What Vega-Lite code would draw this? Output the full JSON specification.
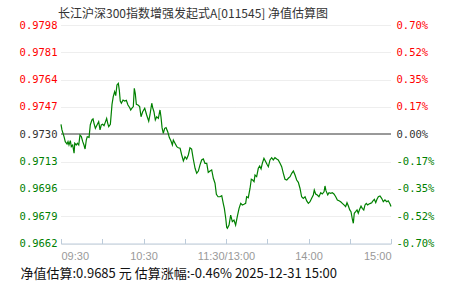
{
  "$schema": "https://vega.github.io/schema/vega-lite/v6.json",
  "width": 330,
  "height": 218.5,
  "autosize": "none",
  "padding": {"left": 61, "top": 25, "right": 60, "bottom": 37.5},
  "background": "#ffffff",
  "title": {
    "text": "长江沪深300指数增强发起式A[011545] 净值估算图",
    "anchor": "start",
    "frame": "group",
    "dx": -3,
    "dy": 8,
    "offset": 7,
    "font": "Noto Sans CJK SC",
    "fontSize": 12,
    "fontWeight": "normal",
    "color": "#333333"
  },
  "config": {"view": {"stroke": null}},
  "data": {
    "values": [
      {"t":0,"nav":0.97362},{"t":0.7,"nav":0.97327},{"t":2.2,"nav":0.97285},{"t":3.1,"nav":0.97254},{"t":4.4,"nav":0.97239},{"t":5.1,"nav":0.97254},{"t":5.8,"nav":0.97233},{"t":6.8,"nav":0.97260},{"t":7.5,"nav":0.97223},{"t":8.5,"nav":0.97233},{"t":9.5,"nav":0.97182},{"t":10,"nav":0.97244},{"t":11.1,"nav":0.97233},{"t":11.9,"nav":0.97244},{"t":12.9,"nav":0.97233},{"t":13.8,"nav":0.97295},{"t":14.8,"nav":0.97285},{"t":15.8,"nav":0.97254},{"t":16.7,"nav":0.97233},{"t":17.5,"nav":0.97208},{"t":18.4,"nav":0.97264},{"t":19.1,"nav":0.97285},{"t":20.4,"nav":0.97281},{"t":21.3,"nav":0.97358},{"t":22.5,"nav":0.97389},{"t":23.3,"nav":0.97395},{"t":24,"nav":0.97368},{"t":25,"nav":0.97337},{"t":26.2,"nav":0.97358},{"t":27.4,"nav":0.97378},{"t":28.4,"nav":0.97327},{"t":29.3,"nav":0.97358},{"t":30.3,"nav":0.97362},{"t":31.3,"nav":0.97353},{"t":32.2,"nav":0.97374},{"t":33.2,"nav":0.97399},{"t":34,"nav":0.97368},{"t":34.7,"nav":0.97347},{"t":35.9,"nav":0.97362},{"t":37.1,"nav":0.97486},{"t":38,"nav":0.97534},{"t":39,"nav":0.97565},{"t":39.8,"nav":0.97540},{"t":40.7,"nav":0.97607},{"t":41.7,"nav":0.97617},{"t":42.4,"nav":0.97575},{"t":43.1,"nav":0.97507},{"t":43.9,"nav":0.97493},{"t":45.1,"nav":0.97513},{"t":46.3,"nav":0.97507},{"t":47.5,"nav":0.97511},{"t":48.7,"nav":0.97482},{"t":50,"nav":0.97465},{"t":50.7,"nav":0.97451},{"t":51.6,"nav":0.97462},{"t":52.6,"nav":0.97472},{"t":53.3,"nav":0.97586},{"t":54,"nav":0.97555},{"t":54.8,"nav":0.97486},{"t":56,"nav":0.97482},{"t":57.2,"nav":0.97472},{"t":58.2,"nav":0.97409},{"t":59.4,"nav":0.97440},{"t":60.9,"nav":0.97462},{"t":62.3,"nav":0.97420},{"t":63.8,"nav":0.97382},{"t":64.7,"nav":0.97420},{"t":66,"nav":0.97493},{"t":66.7,"nav":0.97465},{"t":67.6,"nav":0.97440},{"t":68.6,"nav":0.97389},{"t":69.6,"nav":0.97409},{"t":70.8,"nav":0.97399},{"t":72,"nav":0.97451},{"t":72.7,"nav":0.97409},{"t":73.5,"nav":0.97341},{"t":74.4,"nav":0.97306},{"t":75.4,"nav":0.97337},{"t":76.4,"nav":0.97341},{"t":77.6,"nav":0.97316},{"t":78.8,"nav":0.97279},{"t":80,"nav":0.97258},{"t":81,"nav":0.97233},{"t":81.7,"nav":0.97264},{"t":82.9,"nav":0.97244},{"t":84.2,"nav":0.97223},{"t":85.3,"nav":0.97216},{"t":86.6,"nav":0.97213},{"t":87.8,"nav":0.97171},{"t":89,"nav":0.97134},{"t":90.2,"nav":0.97160},{"t":91.4,"nav":0.97146},{"t":92.6,"nav":0.97171},{"t":93.8,"nav":0.97216},{"t":95,"nav":0.97208},{"t":96.2,"nav":0.97146},{"t":97.5,"nav":0.97088},{"t":98.7,"nav":0.97057},{"t":99.9,"nav":0.97071},{"t":101.1,"nav":0.97109},{"t":102.3,"nav":0.97140},{"t":103.5,"nav":0.97146},{"t":104.7,"nav":0.97119},{"t":106,"nav":0.97119},{"t":107.1,"nav":0.97063},{"t":108.4,"nav":0.97071},{"t":109.6,"nav":0.97078},{"t":110.8,"nav":0.97026},{"t":112,"nav":0.96995},{"t":113,"nav":0.96926},{"t":114.2,"nav":0.96911},{"t":115.6,"nav":0.96911},{"t":116.9,"nav":0.96918},{"t":118,"nav":0.96870},{"t":118.8,"nav":0.96839},{"t":119.8,"nav":0.96777},{"t":120.5,"nav":0.96721},{"t":121,"nav":0.96715},{"t":122.2,"nav":0.96735},{"t":123.4,"nav":0.96797},{"t":124.6,"nav":0.96756},{"t":125.8,"nav":0.96766},{"t":127,"nav":0.96735},{"t":128.2,"nav":0.96787},{"t":129.5,"nav":0.96839},{"t":130.7,"nav":0.96870},{"t":131.9,"nav":0.96860},{"t":133.1,"nav":0.96864},{"t":134.3,"nav":0.96870},{"t":135,"nav":0.96911},{"t":136.2,"nav":0.96905},{"t":137.5,"nav":0.96964},{"t":138.4,"nav":0.97020},{"t":139.4,"nav":0.97015},{"t":140.4,"nav":0.97005},{"t":141.1,"nav":0.97046},{"t":142.3,"nav":0.97036},{"t":143.5,"nav":0.97088},{"t":144.5,"nav":0.97102},{"t":145.5,"nav":0.97084},{"t":146.4,"nav":0.97119},{"t":147.6,"nav":0.97150},{"t":148.9,"nav":0.97129},{"t":149.8,"nav":0.97113},{"t":150.8,"nav":0.97098},{"t":152,"nav":0.97140},{"t":153.2,"nav":0.97154},{"t":154.4,"nav":0.97140},{"t":155.6,"nav":0.97154},{"t":156.9,"nav":0.97146},{"t":158,"nav":0.97140},{"t":159.3,"nav":0.97119},{"t":160.5,"nav":0.97098},{"t":161.7,"nav":0.97057},{"t":162.9,"nav":0.97020},{"t":164.2,"nav":0.97015},{"t":165.3,"nav":0.97026},{"t":166.6,"nav":0.97036},{"t":167.8,"nav":0.97057},{"t":169,"nav":0.97071},{"t":170.2,"nav":0.97046},{"t":171.4,"nav":0.97015},{"t":172.6,"nav":0.97001},{"t":173.8,"nav":0.96964},{"t":175,"nav":0.96911},{"t":176.2,"nav":0.96901},{"t":177.5,"nav":0.96911},{"t":178.7,"nav":0.96885},{"t":179.9,"nav":0.96870},{"t":181.1,"nav":0.96880},{"t":182.3,"nav":0.96901},{"t":183.5,"nav":0.96922},{"t":184.2,"nav":0.96953},{"t":185.2,"nav":0.96928},{"t":186.4,"nav":0.96922},{"t":187.6,"nav":0.96911},{"t":188.9,"nav":0.96936},{"t":190,"nav":0.96928},{"t":191.3,"nav":0.96942},{"t":192,"nav":0.96978},{"t":192.7,"nav":0.96949},{"t":194,"nav":0.96922},{"t":194.9,"nav":0.96936},{"t":196.2,"nav":0.96932},{"t":197.3,"nav":0.96936},{"t":198.5,"nav":0.96928},{"t":199.8,"nav":0.96911},{"t":201,"nav":0.96891},{"t":202.2,"nav":0.96886},{"t":203.4,"nav":0.96880},{"t":204.6,"nav":0.96870},{"t":205.8,"nav":0.96860},{"t":207,"nav":0.96849},{"t":208,"nav":0.96874},{"t":209,"nav":0.96853},{"t":210,"nav":0.96829},{"t":210.9,"nav":0.96818},{"t":211.9,"nav":0.96771},{"t":212.6,"nav":0.96746},{"t":213.3,"nav":0.96808},{"t":214.3,"nav":0.96818},{"t":215.3,"nav":0.96829},{"t":216.2,"nav":0.96808},{"t":217.2,"nav":0.96833},{"t":218.2,"nav":0.96853},{"t":219.1,"nav":0.96839},{"t":220.2,"nav":0.96829},{"t":221.1,"nav":0.96860},{"t":222,"nav":0.96870},{"t":223,"nav":0.96860},{"t":224,"nav":0.96866},{"t":225,"nav":0.96870},{"t":226,"nav":0.96874},{"t":226.9,"nav":0.96886},{"t":227.9,"nav":0.96895},{"t":228.9,"nav":0.96874},{"t":229.8,"nav":0.96895},{"t":230.8,"nav":0.96911},{"t":232,"nav":0.96916},{"t":233.2,"nav":0.96901},{"t":234.4,"nav":0.96880},{"t":235.6,"nav":0.96891},{"t":236.9,"nav":0.96880},{"t":238,"nav":0.96886},{"t":239.3,"nav":0.96866},{"t":240,"nav":0.9685}
    ]
  },
  "layer": [
    {
      "mark": {"type": "rule", "color": "#999999", "strokeWidth": 1.5},
      "encoding": {
        "y": {
          "datum": 0.973,
          "type": "quantitative",
          "scale": {"domain": [0.9662, 0.9798], "nice": false, "zero": false},
          "axis": {
            "orient": "right",
            "values": [0.9662, 0.9679, 0.9696, 0.9713, 0.973, 0.9747, 0.9764, 0.9781, 0.9798],
            "labelExpr": "(datum.value < 0.97295 ? '-' : '') + format(abs(datum.value / 0.973 - 1) * 100, '.2f') + '%'",
            "domain": false,
            "ticks": false,
            "grid": false,
            "labelPadding": 5,
            "labelFont": "DejaVu Sans Mono",
            "labelFontSize": 10.5,
            "labelColor": {"expr": "datum.value > 0.97305 ? '#ff0000' : (datum.value < 0.97295 ? '#008000' : '#333333')"},
            "labelOverlap": false,
            "title": null
          }
        }
      }
    },
    {
      "mark": {"type": "line", "color": "#008000", "strokeWidth": 1.2},
      "encoding": {
        "x": {
          "field": "t",
          "type": "quantitative",
          "scale": {"domain": [0, 240], "nice": false, "zero": false},
          "axis": {
            "values": [0, 30, 60, 90, 120, 150, 180, 210, 240],
            "labelExpr": "datum.value == 0 ? '09:30' : datum.value == 60 ? '10:30' : datum.value == 120 ? '11:30/13:00' : datum.value == 180 ? '14:00' : datum.value == 240 ? '15:00' : ''",
            "labelFlush": true,
            "labelOverlap": false,
            "grid": false,
            "domainColor": "#bccbda",
            "tickColor": "#bccbda",
            "tickSize": -5,
            "labelPadding": 12,
            "labelColor": "#999999",
            "labelFont": "Liberation Sans",
            "labelFontSize": 11,
            "title": "净值估算:0.9685 元 估算涨幅:-0.46% 2025-12-31 15:00",
            "titleX": -41,
            "titleY": 29.5,
            "titleAlign": "left",
            "titleAnchor": "start",
            "titleBaseline": "middle",
            "titleFont": "Noto Sans CJK SC",
            "titleFontSize": 13,
            "titleFontWeight": "normal",
            "titleColor": "#111111"
          }
        },
        "y": {
          "field": "nav",
          "type": "quantitative",
          "scale": {"domain": [0.9662, 0.9798], "nice": false, "zero": false},
          "axis": {
            "orient": "left",
            "values": [0.9662, 0.9679, 0.9696, 0.9713, 0.973, 0.9747, 0.9764, 0.9781, 0.9798],
            "format": ".4f",
            "domain": false,
            "ticks": false,
            "grid": true,
            "gridColor": "#dddddd",
            "gridDash": [1, 1],
            "labelPadding": 4,
            "labelFont": "DejaVu Sans Mono",
            "labelFontSize": 10.5,
            "labelColor": {"expr": "datum.value > 0.97305 ? '#ff0000' : (datum.value < 0.97295 ? '#008000' : '#333333')"},
            "labelOverlap": false,
            "title": null
          }
        }
      }
    }
  ],
  "resolve": {"axis": {"y": "independent"}}
}
